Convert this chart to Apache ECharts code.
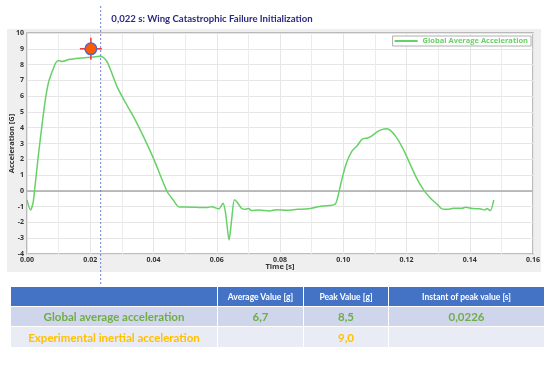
<!DOCTYPE html>
<html>
<head>
<meta charset="utf-8">
<script src="https://cdn.jsdelivr.net/npm/echarts@6/dist/echarts.min.js"></script>
<style>
  html, body { margin: 0; padding: 0; background: #ffffff; }
  #panel { position: absolute; left: 7px; top: 29px; width: 534px; height: 243px; background: #efefef; }
  #main { position: absolute; left: 0; top: 0; width: 550px; height: 368px; }
  #tbl { position: absolute; left: 10px; top: 286px; width: 534px; border-collapse: collapse; table-layout: fixed;
         font-family: Lato, "Open Sans", sans-serif; font-weight: bold; text-align: center; }
  #tbl td { border: 1px solid #ffffff; padding: 0; white-space: nowrap; overflow: hidden; }
  #tbl tr.h td { background: #4472C4; color: #ffffff; font-size: 8.5px; height: 19px; }
  #tbl tr.r1 td { background: #CFD5EA; height: 19px; font-size: 11.5px; color: #70AD47; }
  #tbl tr.r2 td { background: #E9EBF5; height: 20px; font-size: 11.5px; color: #FFC000; }
</style>
</head>
<body>
<div id="panel"></div>
<div id="main"></div>
<table id="tbl">
  <colgroup><col style="width:207px"><col style="width:86px"><col style="width:85px"><col style="width:156px"></colgroup>
  <tr class="h"><td></td><td id="h1"></td><td id="h2"></td><td id="h3"></td></tr>
  <tr class="r1"><td id="r1c0"></td><td id="r1c1"></td><td id="r1c2"></td><td id="r1c3"></td></tr>
  <tr class="r2"><td id="r2c0"></td><td id="r2c1"></td><td id="r2c2"></td><td id="r2c3"></td></tr>
</table>
<script>
// ---- data ----
const times = [0, 0.0011, 0.0019, 0.0024, 0.0035, 0.0047, 0.0058, 0.0069, 0.0080, 0.0091, 0.0100, 0.0111, 0.0135, 0.0168, 0.0202, 0.0229, 0.0240, 0.0252, 0.0266, 0.0285, 0.0312, 0.0340, 0.0368, 0.0401, 0.0423, 0.0443, 0.0462, 0.0481, 0.0501, 0.0534, 0.0567, 0.0584, 0.0606, 0.0620, 0.0628, 0.0639, 0.0647, 0.0656, 0.0667, 0.0678, 0.0689, 0.0700, 0.0711, 0.0733, 0.0767, 0.0789, 0.0822, 0.0855, 0.0889, 0.0922, 0.0955, 0.0975, 0.0983, 0.0994, 0.1010, 0.1027, 0.1044, 0.1060, 0.1077, 0.1088, 0.1105, 0.1121, 0.1138, 0.1149, 0.1166, 0.1188, 0.1210, 0.1232, 0.1254, 0.1276, 0.1299, 0.1312, 0.1332, 0.1348, 0.1376, 0.1387, 0.1409, 0.1432, 0.1448, 0.1454, 0.1465, 0.1476];
const accel = [-0.57, -1.21, -0.78, 0.06, 2.08, 4.09, 5.78, 6.95, 7.58, 8.11, 8.26, 8.20, 8.33, 8.41, 8.47, 8.52, 8.47, 8.22, 7.58, 6.59, 5.57, 4.58, 3.45, 2.01, 0.91, -0.04, -0.57, -1.02, -1.02, -1.04, -1.06, -1.00, -1.14, -0.78, -1.42, -3.11, -1.84, -0.57, -0.78, -1.10, -1.17, -1.12, -1.25, -1.21, -1.27, -1.19, -1.23, -1.17, -1.14, -1.00, -0.93, -0.83, -0.36, 0.59, 1.76, 2.50, 2.86, 3.28, 3.35, 3.45, 3.71, 3.88, 3.94, 3.83, 3.45, 2.71, 1.76, 0.81, 0.06, -0.47, -0.89, -1.14, -1.17, -1.10, -1.10, -1.04, -1.12, -1.14, -1.21, -1.12, -1.25, -0.57];
const seriesName = 'Global Average Acceleration';
const peakPoint = [0.0202, 9.0];          // experimental inertial peak marker
const eventTime = 0.0233;                  // wing failure initialization line
const titleText = '0,022 s: Wing Catastrophic Failure Initialization';
const xAxisName = 'Time [s]';
const yAxisName = 'Acceleration [G]';
const tableHeaders = ['Average Value [g]', 'Peak Value [g]', 'Instant of peak value [s]'];
const rowLabels = ['Global average acceleration', 'Experimental inertial acceleration'];
const row1Values = ['6,7', '8,5', '0,0226'];
const row2Values = ['', '9,0', ''];

// ---- table ----
tableHeaders.forEach((t, i) => document.getElementById('h' + (i + 1)).textContent = t);
document.getElementById('r1c0').textContent = rowLabels[0];
document.getElementById('r2c0').textContent = rowLabels[1];
row1Values.forEach((t, i) => document.getElementById('r1c' + (i + 1)).textContent = t);
row2Values.forEach((t, i) => document.getElementById('r2c' + (i + 1)).textContent = t);

// ---- chart ----
const chart = echarts.init(document.getElementById('main'), null, { renderer: 'canvas' });
const lineColor = '#66d166';
const font = '"Open Sans", "Noto Sans", sans-serif';
const lineData = times.map((t, i) => [t, accel[i]]);

chart.setOption({
  animation: false,
  textStyle: { fontFamily: font },
  grid: { left: 27, right: 17, top: 33, bottom: 114, containLabel: false, outerBoundsMode: 'none',
          show: true, backgroundColor: '#ffffff', borderColor: '#a8a8a8', borderWidth: 1.5 },
  legend: {
    data: [seriesName], right: 19, top: 36, orient: 'horizontal',
    backgroundColor: '#ffffff', borderColor: '#b0b0b0', borderWidth: 1, borderRadius: 0,
    padding: [1, 3, 1, 2], itemWidth: 23, itemHeight: 2, itemGap: 4,
    icon: 'rect',
    textStyle: { color: lineColor, fontWeight: 'bold', fontSize: 7.5, fontFamily: font, padding: [0, 0, 0, 0] }
  },
  xAxis: {
    type: 'value', min: 0, max: 0.16, interval: 0.02,
    name: xAxisName, nameLocation: 'middle', nameGap: 9, nameMoveOverlap: false,
    nameTextStyle: { fontWeight: 'bold', fontSize: 7.5, color: '#333' },
    axisLine: { show: false, onZero: false },
    axisTick: { show: false },
    axisLabel: { fontWeight: 'bold', fontSize: 7, color: '#333', margin: 2, formatter: v => v.toFixed(2) },
    splitLine: { show: true, lineStyle: { color: '#e6e6e6', width: 1 } },
    minorTick: { show: false, splitNumber: 2 },
    minorSplitLine: { show: true, lineStyle: { color: '#ececec', width: 1 } }
  },
  yAxis: {
    type: 'value', min: -4, max: 10, interval: 1,
    name: yAxisName, nameLocation: 'middle', nameGap: 11, nameRotate: 90, nameMoveOverlap: false,
    nameTextStyle: { fontWeight: 'bold', fontSize: 7.5, color: '#333' },
    axisLine: { show: false },
    axisTick: { show: false },
    axisLabel: { fontWeight: 'bold', fontSize: 7, color: '#333', margin: 3 },
    splitLine: { show: true, lineStyle: { color: '#e6e6e6', width: 1 } }
  },
  series: [
    {
      name: seriesName, type: 'line', data: lineData, smooth: 0.25, showSymbol: false,
      lineStyle: { color: lineColor, width: 1.5 }, itemStyle: { color: lineColor }, z: 3,
      markLine: {
        silent: true, symbol: 'none', label: { show: false },
        lineStyle: { color: '#a8a8a8', width: 1.5, type: 'solid' },
        data: [{ yAxis: 0 }], z: 2
      }
    },
    {
      name: 'peak', type: 'custom', data: [peakPoint], z: 5,
      renderItem: function (params, api) {
        const p = api.coord([api.value(0), api.value(1)]);
        return {
          type: 'group',
          children: [
            { type: 'line', shape: { x1: p[0] - 11, y1: p[1], x2: p[0] + 11, y2: p[1] }, style: { stroke: '#ff3030', lineWidth: 1.5 } },
            { type: 'line', shape: { x1: p[0], y1: p[1] - 11, x2: p[0], y2: p[1] + 11 }, style: { stroke: '#ff3030', lineWidth: 1.5 } },
            { type: 'circle', shape: { cx: p[0], cy: p[1], r: 5.8 }, style: { fill: '#ff5a00', stroke: '#5068c8', lineWidth: 1.5 } }
          ]
        };
      }
    }
  ]
});

const ex = chart.convertToPixel({ xAxisIndex: 0 }, eventTime);
chart.setOption({
  graphic: [
    { type: 'text', x: 212, y: 19, z: 100,
      style: { text: titleText, align: 'center', verticalAlign: 'middle', fill: '#2b2b80',
               font: 'bold 9.6px Lato, "Open Sans", sans-serif' } },
    { type: 'line', z: 100, shape: { x1: ex, y1: 6, x2: ex, y2: 285 },
      style: { stroke: '#7080d8', lineWidth: 1, lineDash: [2, 2] } }
  ]
});
</script>
</body>
</html>
